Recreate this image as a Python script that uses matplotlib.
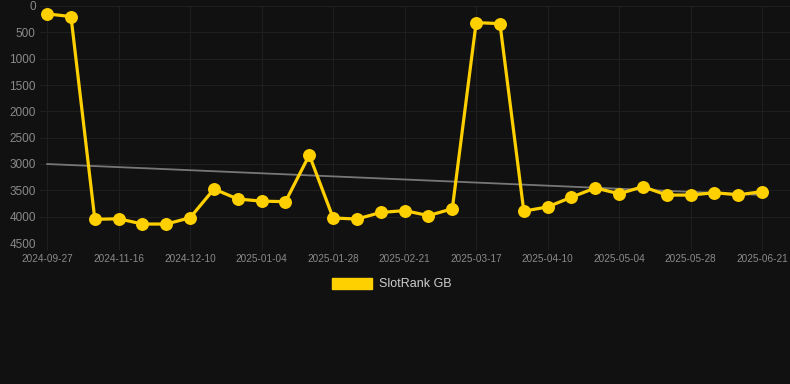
import numpy as np
import matplotlib
matplotlib.use("Agg")
import matplotlib.pyplot as plt
from matplotlib.patches import Patch

plt.rcParams['font.family'] = ['Liberation Sans', 'DejaVu Sans']

# rank per snapshot (lower = better), 31 snapshots
ranks = [150, 200, 4050, 4040, 4140, 4140, 4020, 3475, 3665, 3705, 3715, 2830,
         4025, 4045, 3920, 3885, 3980, 3850, 315, 335, 3895, 3815, 3630, 3455,
         3565, 3430, 3590, 3590, 3545, 3585, 3525]
tick_labels = ['2024-09-27', '2024-11-16', '2024-12-10', '2025-01-04', '2025-01-28',
               '2025-02-21', '2025-03-17', '2025-04-10', '2025-05-04', '2025-05-28',
               '2025-06-21']
series_name = 'SlotRank GB'

bg = '#111111'
gold = '#FFD000'
gridc = '#1f1f1f'

x = np.arange(len(ranks))
fig = plt.figure(figsize=(7.9, 3.84), dpi=100, facecolor=bg)
ax = fig.add_axes([40/790, 141/384, 1 - 40/790, (243 - 6)/384])
ax.set_facecolor(bg)

# trend line
k, b = np.polyfit(x, ranks, 1)
ax.plot(x, k*x + b, color='#777777', lw=1.3, zorder=2)

ax.plot(x, ranks, color=gold, lw=2.3, marker='o', ms=8.3, zorder=3)

ax.set_ylim(4500, 0)
ax.set_yticks(np.arange(0, 4501, 500))
ax.set_xlim(-0.3, 31.17)
ax.set_xticks(x[::3])
ax.set_xticklabels(tick_labels)

ax.grid(True, color=gridc, lw=0.8)
for s in ax.spines.values():
    s.set_visible(False)
ax.tick_params(axis='y', length=0, pad=3, labelsize=8.5, labelcolor='#8a8a8a')
ax.tick_params(axis='x', length=5, color=gridc, pad=3, labelsize=7.2, labelcolor='#8a8a8a')

fig.legend(handles=[Patch(facecolor=gold, edgecolor=gold)], labels=[series_name],
           loc='center', bbox_to_anchor=(0.496, 1 - 284/384), frameon=False,
           fontsize=9, labelcolor='#cccccc', handlelength=3.2, handleheight=1.0,
           handletextpad=0.5)

fig.savefig('out.png', facecolor=bg)
